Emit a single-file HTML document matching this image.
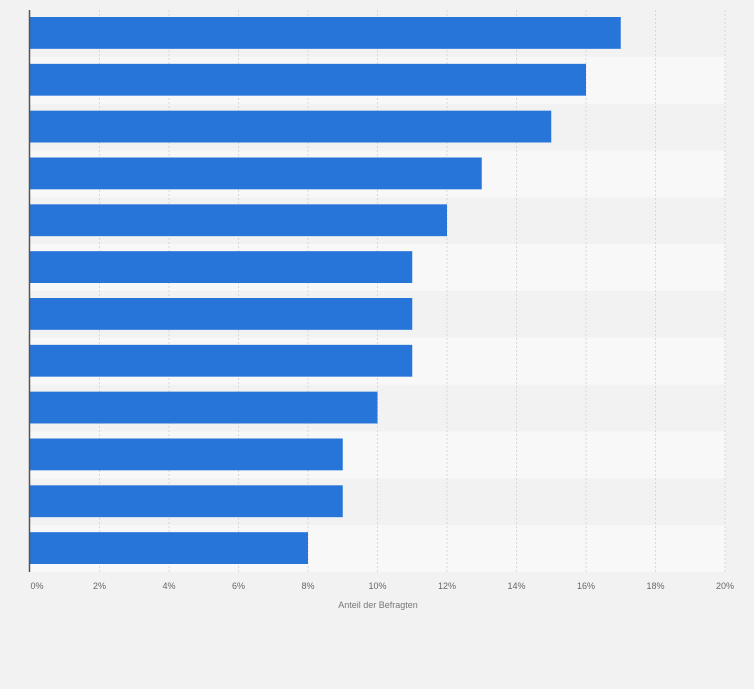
<!DOCTYPE html>
<html><head><meta charset="utf-8"><style>
body{margin:0;background:#f2f2f2;font-family:"Liberation Sans",sans-serif}
svg{display:block}
</style></head><body>
<svg id="c" width="754" height="689"></svg>
<script>
const categories=["c1","c2","c3","c4","c5","c6","c7","c8","c9","c10","c11","c12"];
const values=[17,16,15,13,12,11,11,11,10,9,9,8];
const ticks=[0,2,4,6,8,10,12,14,16,18,20];
const tickLabels=["0%","2%","4%","6%","8%","10%","12%","14%","16%","18%","20%"];
const NS="http://www.w3.org/2000/svg";
const svgEl=document.getElementById('c');
const plotLeft=30,plotRight=725,plotTop=10,plotBottom=572;
const bandH=(plotBottom-plotTop)/categories.length;
const xs=v=>plotLeft+(plotRight-plotLeft)*v/20;
const ys=i=>plotTop+i*bandH;
function mk(t,a){const e=document.createElementNS(NS,t);for(const k in a)e.setAttribute(k,a[k]);svgEl.appendChild(e);return e;}
categories.forEach((c,i)=>{
  const r=mk('rect',{x:plotLeft,y:ys(i),width:plotRight-plotLeft,height:bandH,fill:i%2?'#f8f8f8':'#f2f2f2'});
  
  
});
ticks.forEach((t,i)=>{
  if(i>0){const l=mk('line',{x1:xs(t),x2:xs(t),y1:plotTop,y2:plotBottom,stroke:'#d8d8d8','stroke-dasharray':'2,2'});
  
  }
  const tx=mk('text',{x:i==0?xs(t)+7:xs(t),y:589,'font-size':9,fill:'#666','text-anchor':'middle'});
  tx.textContent=tickLabels[i];
  
  
});
values.forEach((v,i)=>{
  const b=mk('rect',{x:plotLeft,y:ys(i)+7,width:xs(v)-plotLeft,height:bandH-15,fill:'#2775d8'});
  
  
});
const ax=mk('line',{x1:plotLeft-0.5,x2:plotLeft-0.5,y1:plotTop,y2:plotBottom,stroke:'#555','stroke-width':1.5});


const ttl=mk('text',{x:378,y:608,'font-size':9,fill:'#777','text-anchor':'middle'});
ttl.textContent='Anteil der Befragten';


</script>
</body></html>
